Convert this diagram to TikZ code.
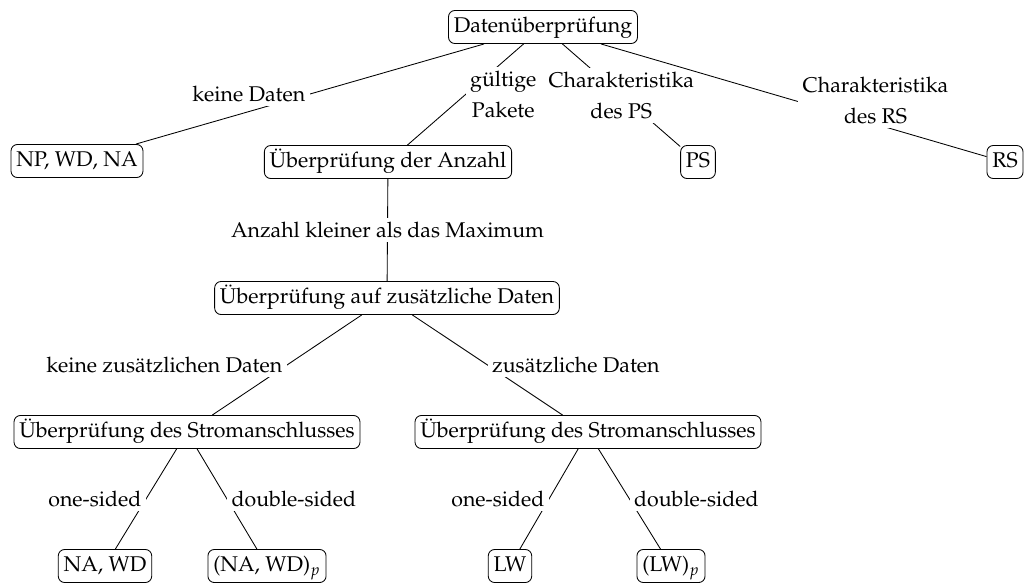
\documentclass[tikz,border=0pt]{standalone}
\usepackage[T1]{fontenc}
\usepackage{mathpazo}
\usetikzlibrary{positioning}

\begin{document}
\begin{tikzpicture}[
  x=0.469pt, y=-0.469pt,
  box/.style={draw, rounded corners=3pt, inner xsep=2.5pt, inner ysep=2.5pt,
    text height=8pt, text depth=2.5pt},
  lbl/.style={fill=white, inner sep=2pt, align=center}
]
  \useasboundingbox (0,0) rectangle (1027,585);

  % Top level
  \node[box] (check) at (543,27) {Datenüberprüfung};
  \node[box] (none) at (77,161) {NP, WD, NA};
  \node[box] (count) at (388,162) {Überprüfung der Anzahl};
  \node[box] (ps) at (698,162) {PS};
  \node[box] (rs) at (1005,162) {RS};

  % Middle
  \node[box] (extra) at (387,298) {Überprüfung auf zusätzliche Daten};
  \node[box] (powerl) at (187,432) {Überprüfung des Stromanschlusses};
  \node[box] (powerr) at (588,432) {Überprüfung des Stromanschlusses};

  % Leaves
  \node[box] (nawd) at (105,566) {NA, WD};
  \node[box] (nawdp) at (267,566) {(NA, WD)$_p$};
  \node[box] (lw) at (510,566) {LW};
  \node[box] (lwp) at (671,566) {(LW)$_p$};

  % Edges with labels
  \draw (check) -- node[lbl, anchor=east] {keine Daten} (none);
  \draw (check) -- node[lbl, anchor=west] {gültige\\[2.5pt]Pakete} (count);
  \draw (check) -- node[lbl] {Charakteristika\\[2.5pt]des PS} (ps);
  \draw (check) -- node[lbl, anchor=west, xshift=2pt] {Charakteristika\\[2.5pt]des RS} (rs);
  \draw (count) -- node[lbl] {Anzahl kleiner als das Maximum} (extra);
  \draw (extra) -- node[lbl, anchor=east] {keine zusätzlichen Daten} (powerl);
  \draw (extra) -- node[lbl, anchor=west] {zusätzliche Daten} (powerr);
  \draw (powerl) -- node[lbl, anchor=east] {one-sided} (nawd);
  \draw (powerl) -- node[lbl, anchor=west] {double-sided} (nawdp);
  \draw (powerr) -- node[lbl, anchor=east] {one-sided} (lw);
  \draw (powerr) -- node[lbl, anchor=west] {double-sided} (lwp);
\end{tikzpicture}
\end{document}
